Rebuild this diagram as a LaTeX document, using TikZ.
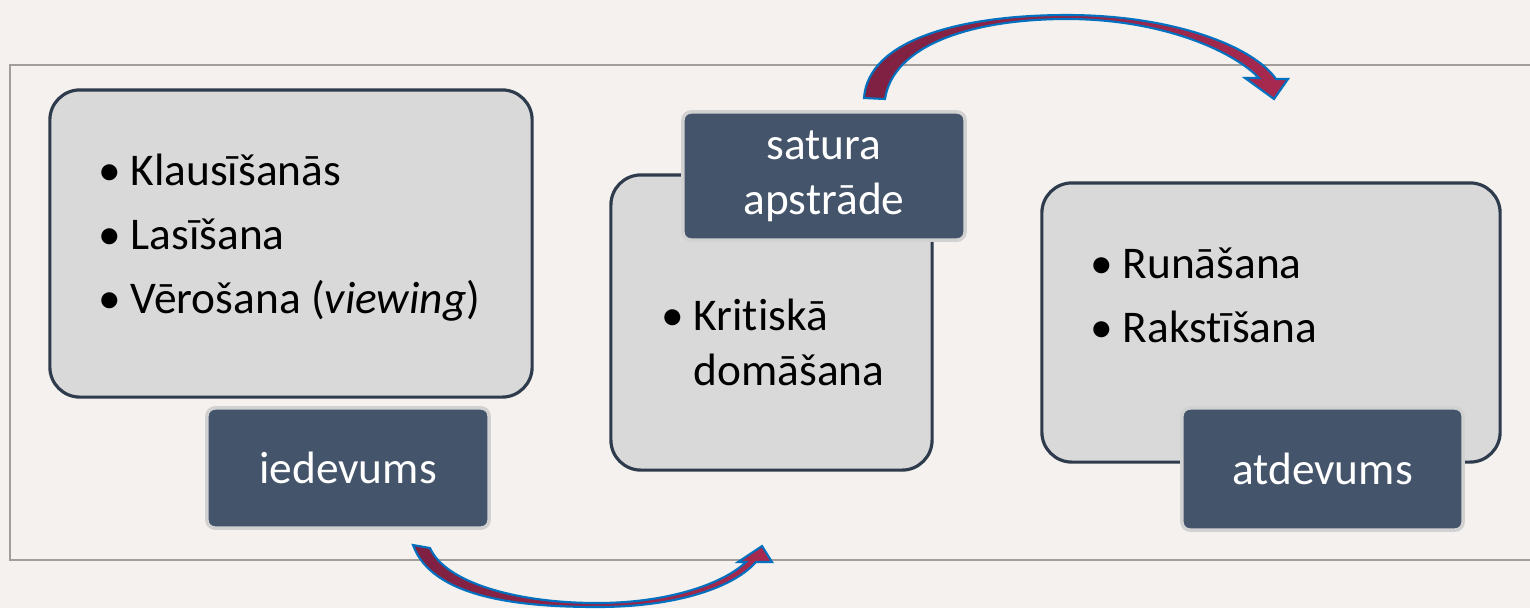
\documentclass[tikz,border=0pt]{standalone}
\usepackage{fontspec}
\setmainfont{Carlito}[Ligatures=NoCommon]
\usetikzlibrary{calc}
\definecolor{bgwarm}{HTML}{F4F1EE}
\definecolor{framegray}{HTML}{A39E99}
\definecolor{panelgray}{HTML}{D9D9D9}
\definecolor{paneledge}{HTML}{2E3B4C}
\definecolor{tabblue}{HTML}{44546A}
\definecolor{arrowred}{HTML}{7E2142}
\definecolor{arrowred2}{HTML}{A8294F}
\definecolor{arrowline}{HTML}{0070C0}
\newcommand{\bul}{\makebox[0.32cm][l]{\textbullet}}
\tikzset{%
  panel/.style    = {draw=paneledge, line width=0.9pt, fill=panelgray, rectangle,
    rounded corners=0.3cm},
  tab/.style      = {draw=black!18, line width=1pt, fill=tabblue, rectangle,
    rounded corners=0.08cm, text=white, align=center,
    font=\fontsize{12.9}{15.6}\selectfont}, % label tab
  item/.style     = {anchor=base west, inner sep=0pt,
    font=\fontsize{12.9}{15.6}\selectfont}, % bullet line
  bigarrow/.style = {draw=arrowline, line width=0.6pt, left color=arrowred,
    right color=arrowred2}
}

\begin{document}
\begin{tikzpicture}[x=0.01cm, y=-0.01cm]
        \fill[bgwarm] (0,0) rectangle (1530,608);
        \useasboundingbox (0,0) rectangle (1530,608);
        \draw[framegray, line width=0.6pt] (1540,65) -- (10,65) -- (10,560) -- (1540,560);
        % panels and tabs
        \node[panel, minimum width=4.82cm, minimum height=3.07cm] (input) at (291,243.5) {};
        \node[tab, minimum width=2.82cm, minimum height=1.2cm] (inputTab) at (348,468) {iedevums};
        \node[panel, minimum width=3.21cm, minimum height=2.95cm] (process) at (771.5,322.5) {};
        \node[tab, minimum width=2.82cm, minimum height=1.28cm] (processTab) at (824,176) {satura\\apstrāde};
        \node[panel, minimum width=4.58cm, minimum height=2.79cm] (output) at (1271,322.5) {};
        \node[tab, minimum width=2.81cm, minimum height=1.22cm] (outputTab) at (1322.5,469) {atdevums};
        % bullet lines
        \node[item] (listen) at (98,185) {\bul Klausīšanās};
        \node[item] (read) at (98,249) {\bul Lasīšana};
        \node[item] (view) at (98,313) {\bul Vērošana (\textit{viewing})};
        \node[item] (think) at (661,330) {\bul Kritiskā};
        \node[item] (thinkB) at (693,385) {domāšana};
        \node[item] (speak) at (1090,278) {\bul Runāšana};
        \node[item] (write) at (1090,342) {\bul Rakstīšana};
        % curved arrows
        \draw[bigarrow] (413,545) .. controls (432,598) and (520,607) .. (597,607)
            .. controls (680,607) and (735,586) .. (756,562)
            -- (772,562) -- (762,546) -- (738,562) -- (746,562)
            .. controls (724,583) and (670,603) .. (597,603)
            .. controls (515,603) and (445,582) .. (430,548) -- cycle;
        \draw[bigarrow] (864,98) .. controls (868,40) and (960,15) .. (1067,15)
            .. controls (1170,15) and (1252,45) .. (1276,79)
            -- (1288,79) -- (1274,99) -- (1245,78) -- (1259,78)
            .. controls (1232,50) and (1160,19) .. (1067,19)
            .. controls (972,19) and (893,45) .. (885,99) -- cycle;
\end{tikzpicture}
\end{document}
